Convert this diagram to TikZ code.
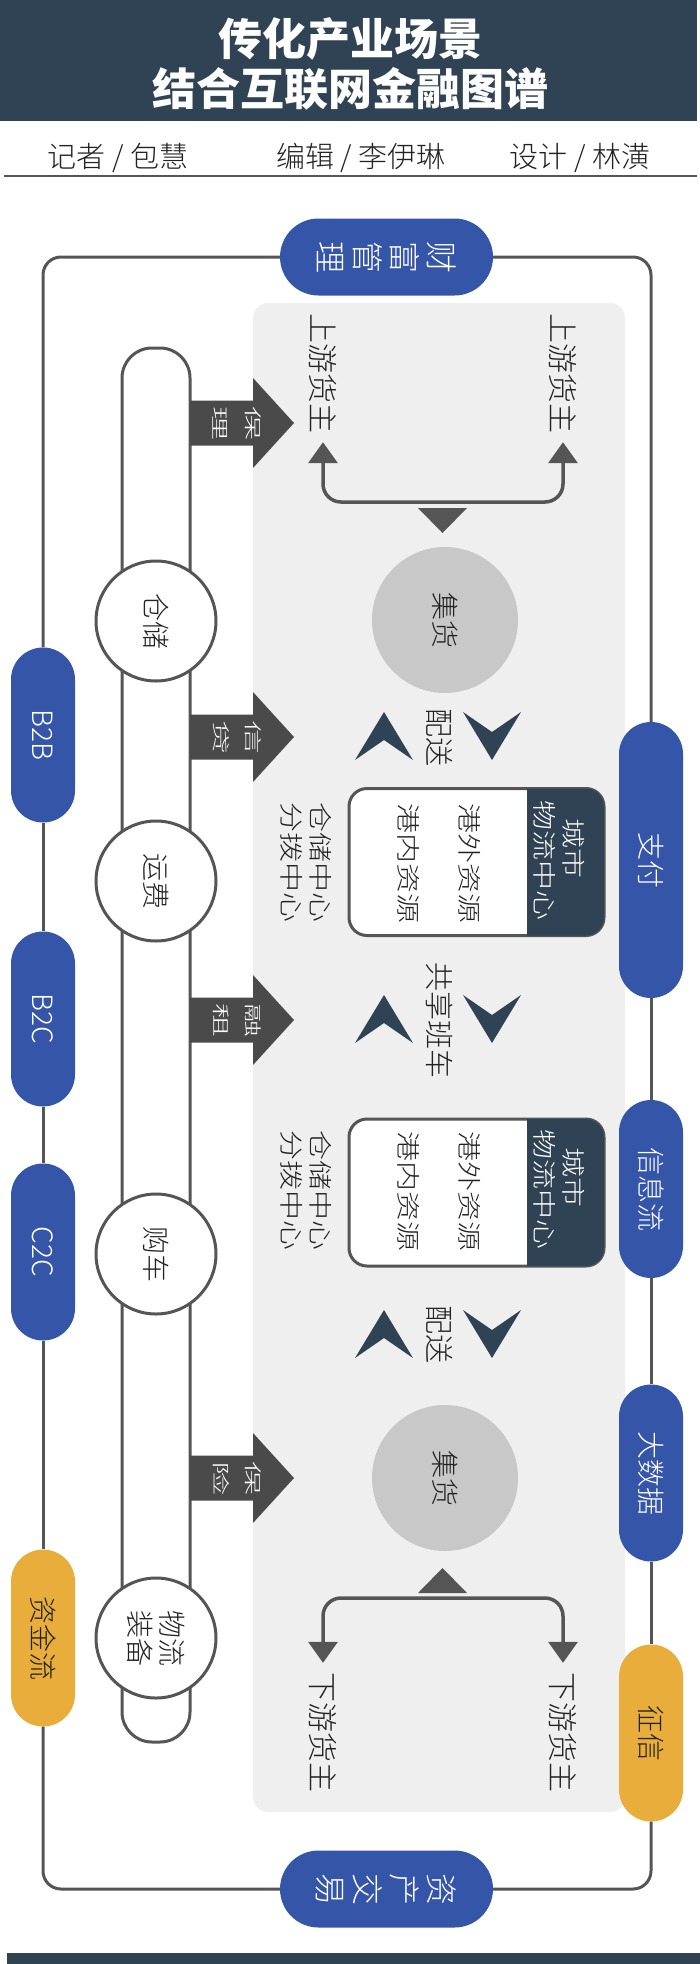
\documentclass[tikz,border=0pt]{standalone}
\usepackage{fontspec}
\usepackage{graphicx}
\setmainfont{Noto Sans CJK SC}
\IfFontExistsTF{Noto Sans CJK SC Light}{\newfontfamily\lightcjk{Noto Sans CJK SC Light}}{\newfontfamily\lightcjk{Noto Sans CJK SC}}
\usetikzlibrary{shapes.misc,arrows.meta}
\definecolor{navy}{HTML}{2F4354}
\definecolor{pblue}{HTML}{3556A8}
\definecolor{pyellow}{HTML}{E8AD3A}
\definecolor{panelc}{HTML}{EFEFEF}
\definecolor{cgray}{HTML}{C8C8C8}
\definecolor{lgray}{HTML}{555555}
\definecolor{agray}{HTML}{4A4A4A}
\definecolor{tdark}{HTML}{222222}
\newcommand{\fsz}[2]{\lightcjk\fontsize{#1}{#2}\selectfont}
\newcommand{\chevU}[2]{\fill[navy] (#1,#2-24) -- (#1+29,#2+24) -- (#1,#2+4) -- (#1-29,#2+24) -- cycle;}
\newcommand{\chevD}[2]{\fill[navy] (#1,#2+24) -- (#1+29,#2-24) -- (#1,#2-4) -- (#1-29,#2-24) -- cycle;}
\newcommand{\finarrow}[3]{%
  \fill[agray] (190,#1-22.5) -- (253,#1-22.5) -- (253,#1-45) -- (294,#1) -- (253,#1+45) -- (253,#1+22.5) -- (190,#1+22.5) -- cycle;
  \node[atext] (#2) at (237,#1) {#3};}
\begin{document}
\begin{tikzpicture}[x=1pt,y=-1pt,
  pillv/.style={rounded rectangle, fill=pblue, text=white, rotate=-90, minimum height=64pt, inner sep=0pt, font=\fsz{28}{28}},
  pilly/.style={pillv, fill=pyellow, text=tdark},
  pillh/.style={rounded rectangle, fill=pblue, minimum width=213pt, minimum height=77pt, inner sep=0pt},
  rt/.style={rotate=-90, inner sep=0pt, align=center, text=tdark},
  rtc/.style={rt, yscale=0.8},
  ring/.style={draw=lgray, line width=3pt, rounded corners=18pt},
  wcirc/.style={circle, draw=lgray, line width=3pt, fill=white, minimum size=120pt, inner sep=0pt, rotate=-90, align=center, text=tdark, font=\fsz{28}{32}},
  gcirc/.style={circle, fill=cgray, minimum size=146pt, inner sep=0pt, rotate=-90, text=tdark, font=\fsz{28}{28}},
  brk/.style={draw=lgray, line width=3.5pt, rounded corners=18pt, {Triangle[width=29pt,length=21pt]}-{Triangle[width=29pt,length=21pt]}},
  cbox/.style={draw=lgray, fill=white, line width=3pt, rounded corners=18pt, minimum width=255pt, minimum height=147pt, inner sep=0pt},
  atext/.style={rotate=-90, yscale=0.52, inner sep=0pt, align=center, text=white, font=\fsz{34}{62}},
]
\useasboundingbox (0,0) rectangle (700,1964);
% header
\fill[navy] (0,0) rectangle (697,121);
\node[text=white, font=\bfseries\fontsize{44}{44}\selectfont] (t1) at (350,39) {传化产业场景};
\node[text=white, font=\bfseries\fontsize{44}{44}\selectfont] (t2) at (350,89) {结合互联网金融图谱};
\node[text=tdark, font=\fsz{29}{29}] (by1) at (118,158) {记者 / 包慧};
\node[text=tdark, font=\fsz{29}{29}] (by2) at (361,158) {编辑 / 李伊琳};
\node[text=tdark, font=\fsz{29}{29}] (by3) at (580,158) {设计 / 林潢};
\draw[lgray, line width=2pt] (4,176) -- (697,176);
\fill[navy] (7,1953) rectangle (700,1964);
% panel
\fill[panelc, rounded corners=15pt] (253,303) rectangle (625,1812);
% inner bar
\node[draw=lgray, line width=3pt, fill=white, rounded corners=30pt, minimum width=68pt, minimum height=1394pt, inner sep=0pt] (bar) at (156,1045) {};
% pills
\node[pillh] (wealth) at (386.5,257) {};
\node[rt, text=white, font=\fsz{32}{37}] (wealthT) at (386.5,257) {财\\富\\管\\理};
\node[pillh] (trade) at (386.5,1889) {};
\node[rt, text=white, font=\fsz{32}{37}] (tradeT) at (386.5,1889) {资\\产\\交\\易};
\node[pillv, minimum width=175pt] (b2b) at (43,735) {B2B};
\node[pillv, minimum width=175pt] (b2c) at (43,1019) {B2C};
\node[pillv, minimum width=177pt] (c2c) at (43,1252) {C2C};
\node[pilly, minimum width=177pt] (fund) at (43,1638) {资金流};
\node[pillv, minimum width=276pt] (pay) at (651,860) {支付};
\node[pillv, minimum width=178pt] (info) at (651,1189) {信息流};
\node[pillv, minimum width=177pt] (bigdata) at (651,1473) {大数据};
\node[pilly, minimum width=177pt] (credit) at (651,1733) {征信};
% ring
\draw[ring] (wealth.west) -| (b2b.west);
\draw[ring] (b2b.east) -- (b2c.west);
\draw[ring] (b2c.east) -- (c2c.west);
\draw[ring] (c2c.east) -- (fund.west);
\draw[ring] (fund.east) |- (trade.west);
\draw[ring] (trade.east) -| (credit.east);
\draw[ring] (credit.west) -- (bigdata.east);
\draw[ring] (bigdata.west) -- (info.east);
\draw[ring] (info.west) -- (pay.east);
\draw[ring] (pay.west) |- (wealth.east);
% circles on bar
\node[wcirc] (cang) at (156,621) {仓储};
\node[wcirc] (yun) at (156,881) {运费};
\node[wcirc] (gou) at (156,1254) {购车};
\node[wcirc] (wlzb) at (156,1638) {物流\\装备};
% finance arrows
\finarrow{423}{bl}{保\\理}
\finarrow{737}{xd}{信\\贷}
\finarrow{1020}{rz}{融\\租}
\finarrow{1478}{bx}{保\\险}
% upstream
\node[rt, font=\fsz{30}{30}] (up1) at (323,373) {上游货主};
\node[rt, font=\fsz{30}{30}] (up2) at (563,373) {上游货主};
\coordinate (bt) at (443,502);
\draw[brk] ([yshift=-9pt]up1.east) |- (bt) -| ([yshift=-9pt]up2.east);
\fill[lgray] (418,508) -- (467,508) -- (442.5,533) -- cycle;
\node[gcirc] (jh1) at (445,620) {集货};
% 配送 1
\node[rt, font=\fsz{29}{29}] (ps1) at (440,737) {配送};
\chevU{384}{736}
\chevD{492}{736}
% city box 1
\node[cbox] (city1) at (476.5,862) {};
\begin{scope}
\clip[rounded corners=18pt] (349,788.5) rectangle (604,935.5);
\fill[navy] (527,786) rectangle (607,938);
\end{scope}
\node[rtc, text=white, font=\fsz{30}{36}] (c1a) at (559.5,860) {城市\hspace*{24pt}\\物流中心};
\node[rtc, font=\fsz{30}{77}] (c1b) at (439,863) {港外资源\\港内资源};
\node[rtc, font=\fsz{30}{36}] (c1c) at (306,862) {仓储中心\\分拨中心};
% shared bus
\node[rt, font=\fsz{29}{29}] (gx) at (440,1020) {共享班车};
\chevU{384}{1019}
\chevD{492}{1019}
% city box 2
\node[cbox] (city2) at (476.5,1192.5) {};
\begin{scope}
\clip[rounded corners=18pt] (349,1119) rectangle (604,1266);
\fill[navy] (527,1117) rectangle (607,1268);
\end{scope}
\node[rtc, text=white, font=\fsz{30}{36}] (c2a) at (559.5,1189) {城市\hspace*{24pt}\\物流中心};
\node[rtc, font=\fsz{30}{77}] (c2b) at (439,1191) {港外资源\\港内资源};
\node[rtc, font=\fsz{30}{36}] (c2c) at (306,1190) {仓储中心\\分拨中心};
% 配送 2
\node[rt, font=\fsz{29}{29}] (ps2) at (440,1334) {配送};
\chevU{384}{1334}
\chevD{492}{1334}
% lower
\node[gcirc] (jh2) at (445,1478) {集货};
\fill[lgray] (418,1593) -- (467,1593) -- (442.5,1568) -- cycle;
\node[rt, font=\fsz{30}{30}] (dn1) at (323,1732) {下游货主};
\node[rt, font=\fsz{30}{30}] (dn2) at (563,1732) {下游货主};
\coordinate (bb) at (443,1598);
\draw[brk] ([yshift=9pt]dn1.west) |- (bb) -| ([yshift=9pt]dn2.west);
\end{tikzpicture}
\end{document}
